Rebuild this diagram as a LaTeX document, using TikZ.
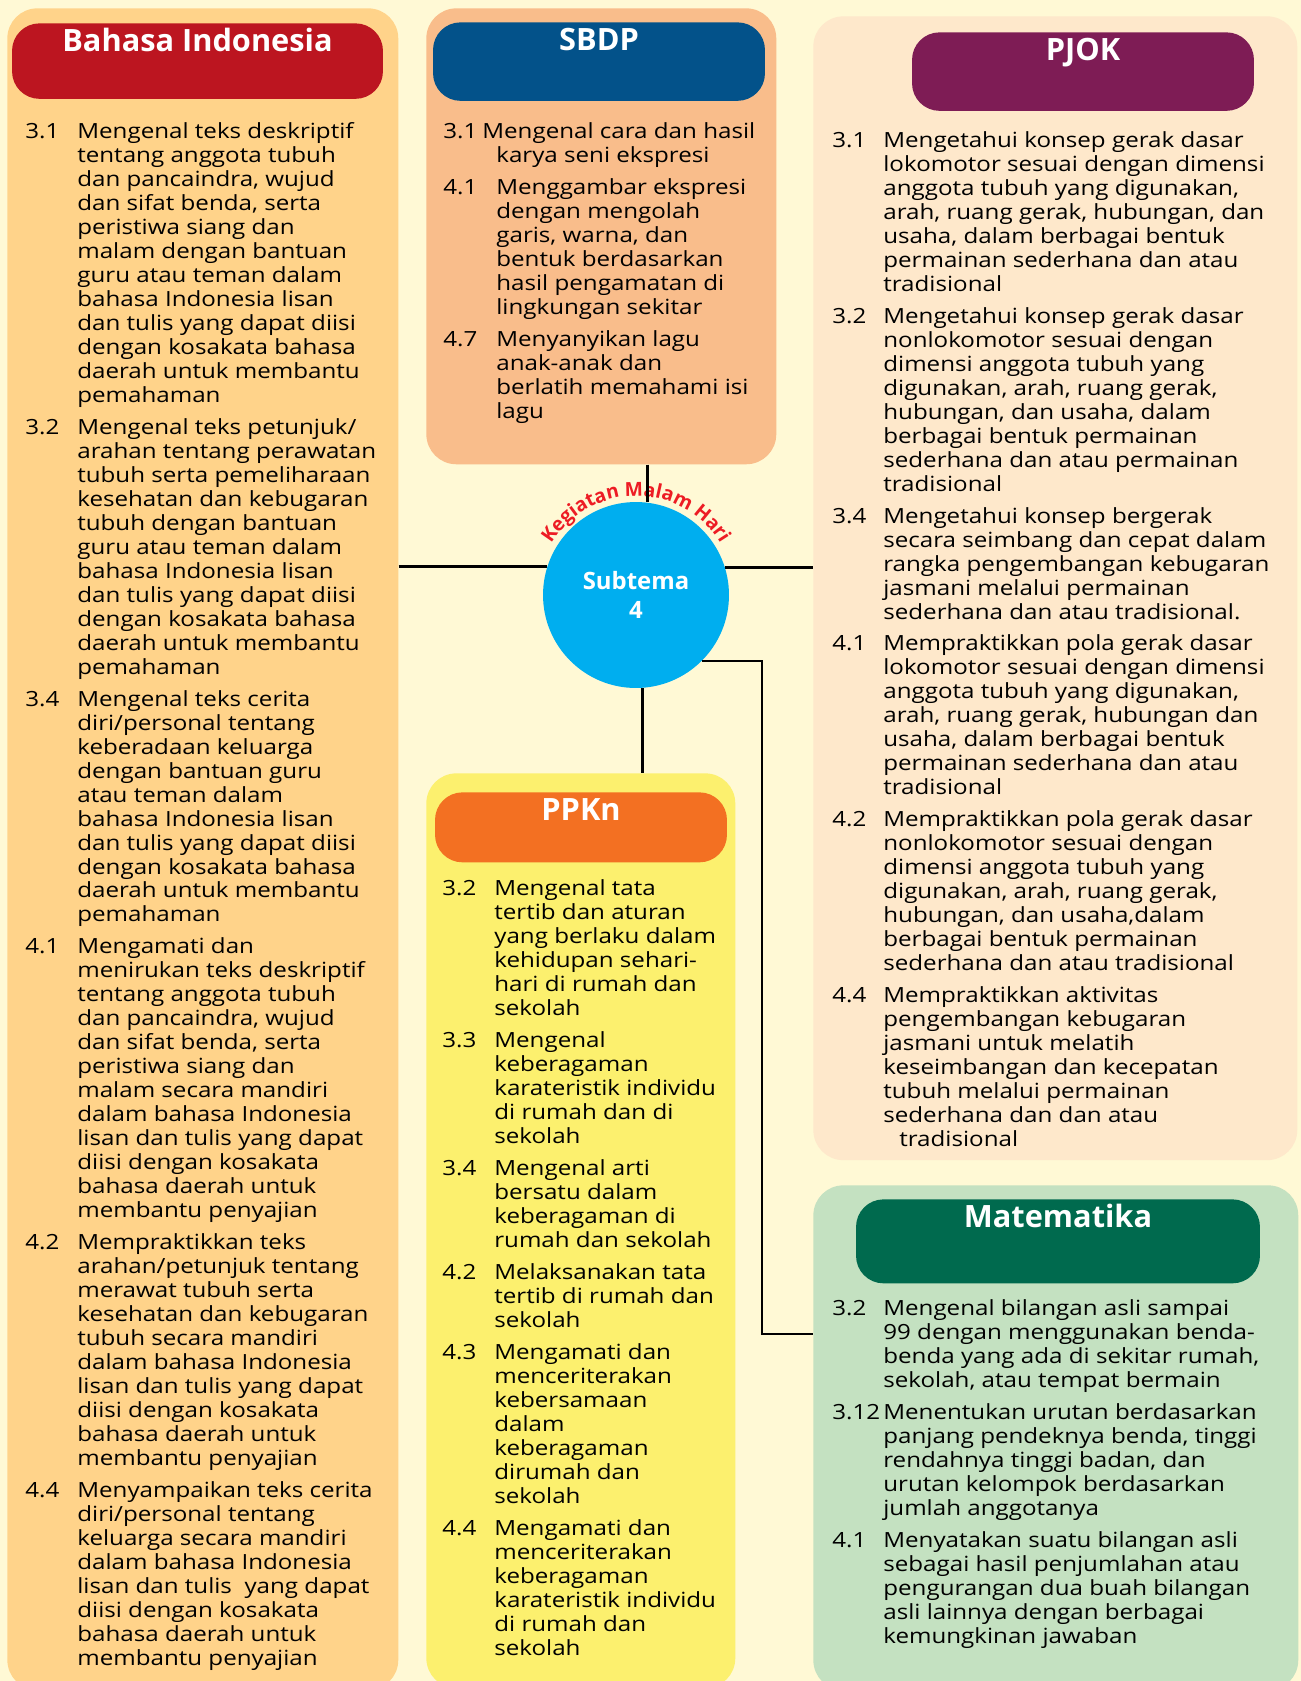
\documentclass[tikz,border=0pt]{standalone}
\usepackage{fontspec}
\setmainfont{Open Sans}
\newfontfamily\isifont{Open Sans}[FakeStretch=1.155]
\usepackage{tikz}
\usetikzlibrary{positioning,
                calc,
                decorations.text}
\definecolor[named]{latar}{rgb}{1,0.976,0.835}
\definecolor[named]{panelbi}{rgb}{1,0.827,0.541}
\definecolor[named]{panelsbdp}{rgb}{0.976,0.741,0.545}
\definecolor[named]{panelpjok}{rgb}{0.996,0.91,0.796}
\definecolor[named]{panelppkn}{rgb}{0.988,0.941,0.431}
\definecolor[named]{panelmtk}{rgb}{0.769,0.882,0.757}
\definecolor[named]{judulbi}{rgb}{0.737,0.082,0.125}
\definecolor[named]{judulsbdp}{rgb}{0.012,0.322,0.541}
\definecolor[named]{judulpjok}{rgb}{0.494,0.11,0.333}
\definecolor[named]{judulppkn}{rgb}{0.953,0.439,0.133}
\definecolor[named]{judulmtk}{rgb}{0,0.416,0.306}
\definecolor[named]{birusubtema}{rgb}{0,0.682,0.937}
\definecolor[named]{merahtema}{rgb}{0.929,0.11,0.141}
\begin{document}
\begin{tikzpicture}
       [x=0.02cm,y=-0.02cm,
        panel/.style={shape=rectangle,rounded corners=6mm,inner sep=0pt,
                      anchor=north west},
        judul/.style={shape=rectangle,rounded corners=5.5mm,inner sep=0pt,
                      anchor=north,text=white,text height=5.7mm,
                      font=\fontsize{17.5}{20}\selectfont\bfseries},
        isi/.style={inner sep=0pt,anchor=base west,
                    font=\isifont\fontsize{11.9}{13.66}\selectfont},
        garis/.style={line width=1.6pt,draw=black}]
   \clip (0,0) rectangle (1301,1681);
   \fill[latar] (0,0) rectangle (1301,1681);

   \node[panel,fill=panelbi,minimum width=7.82cm,minimum height=33.64cm] (bi) at (7,8) {};
   \node[panel,fill=panelsbdp,minimum width=7cm,minimum height=9.12cm] (sbdp) at (426,8) {};
   \node[panel,fill=panelpjok,minimum width=9.68cm,minimum height=22.88cm] (pjok) at (813,16) {};
   \node[panel,fill=panelppkn,minimum width=6.18cm,minimum height=18.3cm] (ppkn) at (426,773) {};
   \node[panel,fill=panelmtk,minimum width=9.7cm,minimum height=10.1cm] (mtk) at (813,1185) {};

   \node[judul,fill=judulbi,minimum width=7.42cm,text depth=9.4mm] (bi-judul) at (197.5,23) {Bahasa Indonesia};
   \node[judul,fill=judulsbdp,minimum width=6.64cm,text depth=10mm] (sbdp-judul) at (599,22) {SBDP};
   \node[judul,fill=judulpjok,minimum width=6.84cm,text depth=10mm] (pjok-judul) at (1083,32) {PJOK};
   \node[judul,fill=judulppkn,minimum width=5.84cm,text depth=8.3mm] (ppkn-judul) at (581,792) {PPKn};
   \node[judul,fill=judulmtk,minimum width=8.08cm,text depth=11.1mm] (mtk-judul) at (1058,1199) {Matematika};

   \node[isi] (bi-isi) at (25,138) {\begin{tabular}[t]{@{}p{10.4mm}@{}l@{}}
      3.1 & Mengenal teks deskriptif\\
          & tentang anggota tubuh\\
          & dan pancaindra, wujud\\
          & dan sifat benda, serta\\
          & peristiwa siang dan\\
          & malam dengan bantuan\\
          & guru atau teman dalam\\
          & bahasa Indonesia lisan\\
          & dan tulis yang dapat diisi\\
          & dengan kosakata bahasa\\
          & daerah untuk membantu\\
          & pemahaman\\[1.6mm]
      3.2 & Mengenal teks petunjuk/\\
          & arahan tentang perawatan\\
          & tubuh serta pemeliharaan\\
          & kesehatan dan kebugaran\\
          & tubuh dengan bantuan\\
          & guru atau teman dalam\\
          & bahasa Indonesia lisan\\
          & dan tulis yang dapat diisi\\
          & dengan kosakata bahasa\\
          & daerah untuk membantu\\
          & pemahaman\\[1.6mm]
      3.4 & Mengenal teks cerita\\
          & diri/personal tentang\\
          & keberadaan keluarga\\
          & dengan bantuan guru\\
          & atau teman dalam\\
          & bahasa Indonesia lisan\\
          & dan tulis yang dapat diisi\\
          & dengan kosakata bahasa\\
          & daerah untuk membantu\\
          & pemahaman\\[1.6mm]
      4.1 & Mengamati dan\\
          & menirukan teks deskriptif\\
          & tentang anggota tubuh\\
          & dan pancaindra, wujud\\
          & dan sifat benda, serta\\
          & peristiwa siang dan\\
          & malam secara mandiri\\
          & dalam bahasa Indonesia\\
          & lisan dan tulis yang dapat\\
          & diisi dengan kosakata\\
          & bahasa daerah untuk\\
          & membantu penyajian\\[1.6mm]
      4.2 & Mempraktikkan teks\\
          & arahan/petunjuk tentang\\
          & merawat tubuh serta\\
          & kesehatan dan kebugaran\\
          & tubuh secara mandiri\\
          & dalam bahasa Indonesia\\
          & lisan dan tulis yang dapat\\
          & diisi dengan kosakata\\
          & bahasa daerah untuk\\
          & membantu penyajian\\[1.6mm]
      4.4 & Menyampaikan teks cerita\\
          & diri/personal tentang\\
          & keluarga secara mandiri\\
          & dalam bahasa Indonesia\\
          & lisan dan tulis \ yang dapat\\
          & diisi dengan kosakata\\
          & bahasa daerah untuk\\
          & membantu penyajian
   \end{tabular}};

   \node[isi] (sbdp-isi) at (443,138) {\begin{tabular}[t]{@{}p{10.6mm}@{}l@{}}
      \multicolumn{2}{@{}l@{}}{\makebox[7.8mm][l]{3.1}Mengenal cara dan hasil}\\
          & karya seni ekspresi\\[1.6mm]
      4.1 & Menggambar ekspresi\\
          & dengan mengolah\\
          & garis, warna, dan\\
          & bentuk berdasarkan\\
          & hasil pengamatan di\\
          & lingkungan sekitar\\[1.6mm]
      4.7 & Menyanyikan lagu\\
          & anak-anak dan\\
          & berlatih memahami isi\\
          & lagu
   \end{tabular}};

   \node[isi] (pjok-isi) at (832,147) {\begin{tabular}[t]{@{}p{10.2mm}@{}l@{}}
      3.1 & Mengetahui konsep gerak dasar\\
          & lokomotor sesuai dengan dimensi\\
          & anggota tubuh yang digunakan,\\
          & arah, ruang gerak, hubungan, dan\\
          & usaha, dalam berbagai bentuk\\
          & permainan sederhana dan atau\\
          & tradisional\\[1.6mm]
      3.2 & Mengetahui konsep gerak dasar\\
          & nonlokomotor sesuai dengan\\
          & dimensi anggota tubuh yang\\
          & digunakan, arah, ruang gerak,\\
          & hubungan, dan usaha, dalam\\
          & berbagai bentuk permainan\\
          & sederhana dan atau permainan\\
          & tradisional\\[1.6mm]
      3.4 & Mengetahui konsep bergerak\\
          & secara seimbang dan cepat dalam\\
          & rangka pengembangan kebugaran\\
          & jasmani melalui permainan\\
          & sederhana dan atau tradisional.\\[1.6mm]
      4.1 & Mempraktikkan pola gerak dasar\\
          & lokomotor sesuai dengan dimensi\\
          & anggota tubuh yang digunakan,\\
          & arah, ruang gerak, hubungan dan\\
          & usaha, dalam berbagai bentuk\\
          & permainan sederhana dan atau\\
          & tradisional\\[1.6mm]
      4.2 & Mempraktikkan pola gerak dasar\\
          & nonlokomotor sesuai dengan\\
          & dimensi anggota tubuh yang\\
          & digunakan, arah, ruang gerak,\\
          & hubungan, dan usaha,dalam\\
          & berbagai bentuk permainan\\
          & sederhana dan atau tradisional\\[1.6mm]
      4.4 & Mempraktikkan aktivitas\\
          & pengembangan kebugaran\\
          & jasmani untuk melatih\\
          & keseimbangan dan kecepatan\\
          & tubuh melalui permainan\\
          & sederhana dan dan atau\\
          & \hspace*{3.2mm}tradisional
   \end{tabular}};

   \node[isi] (ppkn-isi) at (442,895) {\begin{tabular}[t]{@{}p{10.4mm}@{}l@{}}
      3.2 & Mengenal tata\\
          & tertib dan aturan\\
          & yang berlaku dalam\\
          & kehidupan sehari-\\
          & hari di rumah dan\\
          & sekolah\\[1.6mm]
      3.3 & Mengenal\\
          & keberagaman\\
          & karateristik individu\\
          & di rumah dan di\\
          & sekolah\\[1.6mm]
      3.4 & Mengenal arti\\
          & bersatu dalam\\
          & keberagaman di\\
          & rumah dan sekolah\\[1.6mm]
      4.2 & Melaksanakan tata\\
          & tertib di rumah dan\\
          & sekolah\\[1.6mm]
      4.3 & Mengamati dan\\
          & menceriterakan\\
          & kebersamaan\\
          & dalam\\
          & keberagaman\\
          & dirumah dan\\
          & sekolah\\[1.6mm]
      4.4 & Mengamati dan\\
          & menceriterakan\\
          & keberagaman\\
          & karateristik individu\\
          & di rumah dan\\
          & sekolah
   \end{tabular}};

   \node[isi] (mtk-isi) at (832,1315) {\begin{tabular}[t]{@{}p{10.2mm}@{}l@{}}
      3.2  & Mengenal bilangan asli sampai\\
           & 99 dengan menggunakan benda-\\
           & benda yang ada di sekitar rumah,\\
           & sekolah, atau tempat bermain\\[1.6mm]
      3.12 & Menentukan urutan berdasarkan\\
           & panjang pendeknya benda, tinggi\\
           & rendahnya tinggi badan, dan\\
           & urutan kelompok berdasarkan\\
           & jumlah anggotanya\\[1.6mm]
      4.1  & Menyatakan suatu bilangan asli\\
           & sebagai hasil penjumlahan atau\\
           & pengurangan dua buah bilangan\\
           & asli lainnya dengan berbagai\\
           & kemungkinan jawaban
   \end{tabular}};

   \node[shape=circle,fill=birusubtema,minimum size=3.72cm,inner sep=0pt,
         text=white,align=center,font=\fontsize{13.6}{16.5}\selectfont\bfseries]
         (subtema) at (636,595) {Subtema\\4};
   \path[decorate,decoration={text along path,text align=center,
         text={|\fontsize{11}{12}\selectfont\bfseries\color{merahtema}|Kegiatan Malam Hari}}]
         ([shift={(150:1.98cm)}]subtema.center) arc[start angle=150,end angle=30,radius=1.98cm];

   \draw[garis] (bi.east |- subtema.162.5) -- (subtema.162.5);
   \draw[garis] (subtema.17.5) -- (subtema.17.5 -| pjok.west);
   \draw[garis] (sbdp.south -| subtema.83) -- (subtema.83);
   \draw[garis] (subtema.-86) -- (subtema.-86 |- ppkn.north);
   \coordinate (belok) at (762,1334);
   \draw[garis] (subtema.-45) -| (belok) -- (belok -| mtk.west);
\end{tikzpicture}
\end{document}
